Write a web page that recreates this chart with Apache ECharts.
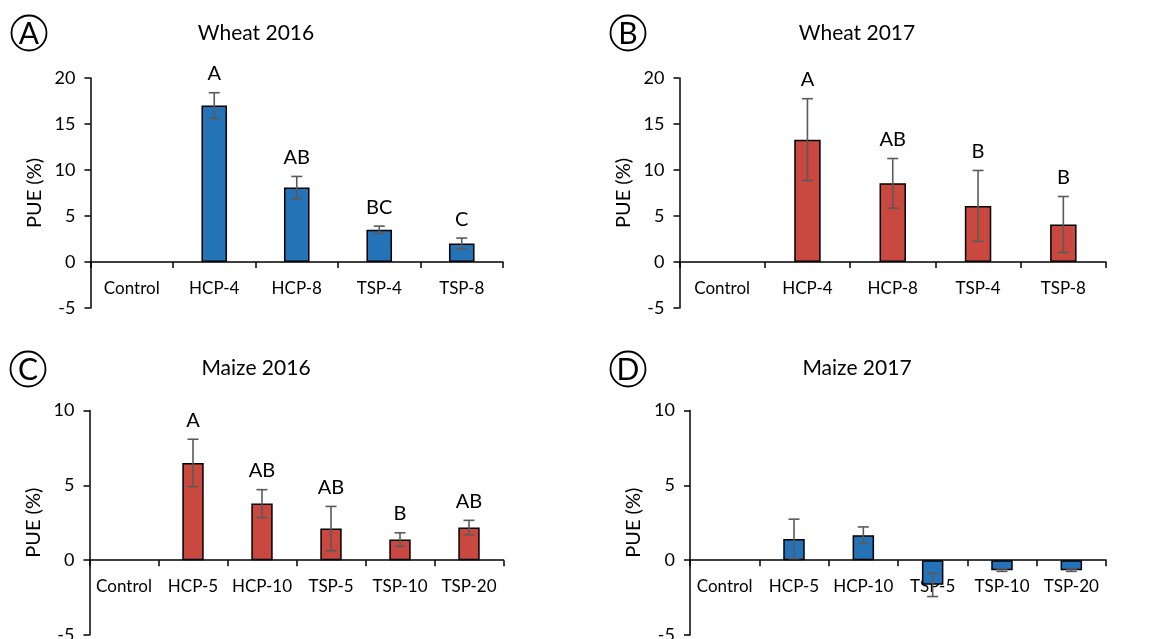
<!DOCTYPE html>
<html>
<head>
<meta charset="utf-8">
<script src="https://cdn.jsdelivr.net/npm/echarts@6/dist/echarts.min.js"></script>
<style>
html,body{margin:0;padding:0;background:#fff;}
#chart{width:1156px;height:639px;}
</style>
</head>
<body>
<div id="chart"></div>
<script>
// ---- data ----
const wheatCats = ['Control', 'HCP-4', 'HCP-8', 'TSP-4', 'TSP-8'];
const maizeCats = ['Control', 'HCP-5', 'HCP-10', 'TSP-5', 'TSP-10', 'TSP-20'];

const wheat2016 = [null, 17.0, 8.1, 3.5, 2.0];
const wheat2016Err = [null, 1.4, 1.2, 0.4, 0.6];
const wheat2016Letters = ['', 'A', 'AB', 'BC', 'C'];

const wheat2017 = [null, 13.3, 8.55, 6.1, 4.07];
const wheat2017Err = [null, 4.45, 2.7, 3.85, 3.05];
const wheat2017Letters = ['', 'A', 'AB', 'B', 'B'];

const maize2016 = [null, 6.5, 3.78, 2.11, 1.38, 2.18];
const maize2016Err = [null, 1.58, 0.93, 1.48, 0.45, 0.48];
const maize2016Letters = ['', 'A', 'AB', 'AB', 'B', 'AB'];

const maize2017 = [null, 1.42, 1.67, -1.65, -0.67, -0.67];
const maize2017Err = [null, 1.32, 0.55, 0.78, 0.08, 0.08];
const maize2017Letters = ['', '', '', '', '', ''];

const panelTitles = ['Wheat 2016', 'Wheat 2017', 'Maize 2016', 'Maize 2017'];
const panelTags = ['A', 'B', 'C', 'D'];
const yName = 'PUE (%)';

// ---- styling ----
const FONT = 'Lato';
const BLUE = '#2472b8';
const RED = '#c9483f';
const ERR = '#5a5a5a';

const panels = [
  {cats: wheatCats, vals: wheat2016, err: wheat2016Err, letters: wheat2016Letters, color: BLUE, min: -5, max: 20,
   grid: {left: 90.5, top: 78, width: 412.5, height: 230}, title: [256, 31], tag: [29, 33]},
  {cats: wheatCats, vals: wheat2017, err: wheat2017Err, letters: wheat2017Letters, color: RED, min: -5, max: 20,
   grid: {left: 679.5, top: 78, width: 426.5, height: 230}, title: [857, 31], tag: [628, 33]},
  {cats: maizeCats, vals: maize2016, err: maize2016Err, letters: maize2016Letters, color: RED, min: -5, max: 10,
   grid: {left: 89.5, top: 410.5, width: 414, height: 224.5}, title: [256, 366], tag: [28, 369]},
  {cats: maizeCats, vals: maize2017, err: maize2017Err, letters: maize2017Letters, color: BLUE, min: -5, max: 10,
   grid: {left: 690, top: 410.5, width: 416, height: 224.5}, title: [857, 366], tag: [628, 369]}
];

const grids = [], xAxes = [], yAxes = [], series = [], titles = [], graphics = [];

panels.forEach((p, i) => {
  grids.push(Object.assign({containLabel: false, outerBoundsMode: 'none'}, p.grid));
  // the category axis sits on the zero line: shift it up from the grid bottom
  const zeroOffset = -p.grid.height * (0 - p.min) / (p.max - p.min);
  xAxes.push({
    type: 'category', gridIndex: i, data: p.cats, position: 'bottom', offset: zeroOffset,
    axisLine: {onZero: false, lineStyle: {color: '#000', width: 1.5}},
    axisTick: {show: true, length: 6, lineStyle: {color: '#000', width: 1.5}},
    axisLabel: {color: '#000', fontFamily: FONT, fontSize: 17, margin: 18, interval: 0},
    splitLine: {show: false}
  });
  yAxes.push({
    type: 'value', gridIndex: i, min: p.min, max: p.max, interval: 5,
    name: yName, nameLocation: 'middle', nameGap: 46, nameRotate: 90,
    nameTextStyle: {color: '#000', fontFamily: FONT, fontSize: 20},
    axisLine: {show: true, onZero: false, lineStyle: {color: '#000', width: 1.5}},
    axisTick: {show: true, length: 6, lineStyle: {color: '#000', width: 1.5}},
    axisLabel: {color: '#000', fontFamily: FONT, fontSize: 18, margin: 15},
    splitLine: {show: false}
  });
  series.push({
    type: 'bar', xAxisIndex: i, yAxisIndex: i, data: p.vals, barWidth: '31%',
    itemStyle: {color: p.color, borderColor: '#000', borderWidth: 1.5},
    silent: true, animation: false
  });
  const errData = p.vals.map((v, k) => [k, v, p.err[k], p.letters[k]]).filter(d => d[1] !== null);
  series.push({
    type: 'custom', xAxisIndex: i, yAxisIndex: i, data: errData, z: 5, animation: false, silent: true,
    encode: {x: 0, y: 1},
    renderItem: function (params, api) {
      const k = api.value(0), v = api.value(1), e = api.value(2);
      const letter = errData[params.dataIndex][3];
      const hi = api.coord([k, v + e]);
      const lo = api.coord([k, v - e]);
      const cap = 5.5;
      const ls = {stroke: ERR, lineWidth: 1.6};
      const children = [
        {type: 'line', shape: {x1: hi[0], y1: hi[1], x2: lo[0], y2: lo[1]}, style: ls},
        {type: 'line', shape: {x1: hi[0] - cap, y1: hi[1], x2: hi[0] + cap, y2: hi[1]}, style: ls},
        {type: 'line', shape: {x1: lo[0] - cap, y1: lo[1], x2: lo[0] + cap, y2: lo[1]}, style: ls}
      ];
      if (letter) {
        children.push({type: 'text', style: {text: letter, x: hi[0], y: hi[1] - 19,
          align: 'center', verticalAlign: 'middle', textAlign: 'center', textVerticalAlign: 'middle',
          font: '20px ' + FONT, fill: '#000'}});
      }
      return {type: 'group', children: children};
    }
  });
  titles.push({
    text: panelTitles[i], left: p.title[0], top: p.title[1] - 8, textAlign: 'center', padding: 0,
    textStyle: {color: '#000', fontFamily: FONT, fontSize: 21, fontWeight: 'normal'}
  });
  graphics.push({
    type: 'circle', shape: {cx: p.tag[0], cy: p.tag[1], r: 17.5},
    style: {fill: 'none', stroke: '#000', lineWidth: 1.8}
  });
  graphics.push({
    type: 'text', x: p.tag[0], y: p.tag[1] + 1,
    style: {text: panelTags[i], align: 'center', verticalAlign: 'middle', textAlign: 'center', textVerticalAlign: 'middle',
      font: '30px ' + FONT, fill: '#000'}
  });
});

const chart = echarts.init(document.getElementById('chart'), null, {renderer: 'canvas'});
chart.setOption({
  backgroundColor: '#fff',
  animation: false,
  title: titles,
  grid: grids,
  xAxis: xAxes,
  yAxis: yAxes,
  series: series,
  graphic: graphics
});
</script>
</body>
</html>
